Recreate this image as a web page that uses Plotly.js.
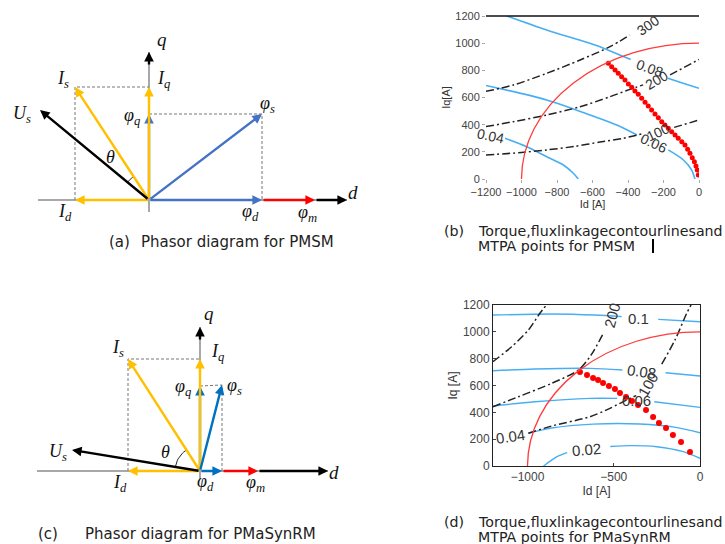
<!DOCTYPE html>
<html><head><meta charset="utf-8">
<script src="https://cdn.plot.ly/plotly-3.0.1.min.js"></script>
<style>html,body{margin:0;padding:0;background:#fff}#chart{width:725px;height:544px}</style>
</head><body><div id="chart"></div>
<script>
// ===== Panel (a): PMSM phasor diagram (d, q components in diagram units) =====
const pmsmIs   = [-74, 113];
const pmsmIq   = [0, 113];
const pmsmId   = [-74, 0];
const pmsmUs   = [-109, 90];
const pmsmPsiS = [113, 86];
const pmsmPsiQ = [0, 86];
const pmsmPsiD = [113, 0];
const pmsmPsiM = [166, 0];          // tip; tail sits on pmsmPsiD
const pmsmDAxis = [-111, 198];
const pmsmQAxis = [-12, 148];

// ===== Panel (c): PMaSynRM phasor diagram =====
const synIs   = [-72, 112];
const synIq   = [0, 112];
const synId   = [-72, 0];
const synUs   = [-128, 21];
const synPsiS = [22, 86];
const synPsiQ = [0, 85];
const synPsiD = [22, 0];
const synPsiM = [58, 0];
const synDAxis = [-163, 128];
const synQAxis = [-8, 144];

// ===== Panel (b): PMSM contours [A] =====
const currentLimit = 1000;
const xTicksB = [-1200, -1000, -800, -600, -400, -200, 0];
const yTicks = [0, 200, 400, 600, 800, 1000, 1200];
const bFlux008Id = [-1082, -858, -558, -426, -385, null, -175, -90, 0];
const bFlux008Iq = [1200, 1097, 974, 901, 880, null, 741, 705, 668];
const bFlux006Id = [-1200, -858, -614, -450, -350, null, -173, -88, -41, -23];
const bFlux006Iq = [689, 582, 471, 390, 324, null, 214, 140, 66, 0];
const bFlux004Id = [-1093, -971, -858, -764, -708, -680];
const bFlux004Iq = [300, 238, 164, 103, 42, 0];
const bT300Id = [-1200, -1046, -858, -670, -501, -389];
const bT300Iq = [645, 692, 778, 876, 974, 1060];
const bT200Id = [-1200, -1046, -858, -670, -501, -389, -315, null, -163, 0];
const bT200Iq = [386, 422, 471, 532, 606, 660, 693, null, 766, 880];
const bT100Id = [-1200, -1000, -858, -700, -558, -426, -320, null, -140, 0];
const bT100Iq = [177, 195, 214, 240, 272, 300, 333, null, 380, 434];
const bMtpaId = [-511, -492, -473, -455, -436, -417, -398, -379, -361, -342, -323, -304, -286, -267, -248, -229, -210, -192, -173, -154, -135, -117, -97, -79, -64, -51, -38, -26, -17, -10, -4];
const bMtpaIq = [852, 827, 803, 778, 753, 729, 700, 675, 648, 624, 594, 565, 538, 508, 479, 451, 422, 398, 373, 348, 324, 300, 275, 250, 219, 189, 157, 127, 96, 66, 29];
const bLabels = ['300', '0.08', '200', '100', '0.06', '0.04'];
const bLabelId = [-285, -280, -238, -229, -257, -1172];
const bLabelIq = [1134, 815, 729, 348, 263, 320];
const bLabelAng = [-35, 20, -30, -25, 25, 12];

// ===== Panel (d): PMaSynRM contours [A] =====
const xTicksD = [-1000, -500, 0];
const dFlux01Id = [-1200, -860, -609, -454, null, -242, 0];
const dFlux01Iq = [1125, 1133, 1125, 1113, null, 1093, 1075];
const dFlux008Id = [-1200, -957, -638, -450, null, -200, 0];
const dFlux008Iq = [710, 723, 728, 715, null, 695, 671];
const dFlux006Id = [-1200, -957, -638, -480, null, -265, 0];
const dFlux006Iq = [447, 479, 504, 504, null, 479, 437];
const dFlux004Id = [-995, -860, -620, -348, -150, 0];
const dFlux004Iq = [244, 283, 312, 313, 290, 248];
const dFlux002Id = [-907, -870, -820, -770, null, -520, -400, -251, -97, 0];
const dFlux002Iq = [0, 35, 75, 100, null, 145, 152, 144, 107, 57];
const dT300Id = [-1200, -1092, -995, -928, -890];
const dT300Iq = [778, 889, 1013, 1138, 1200];
const dT200Id = [-1200, -1053, -860, -705, -630, -560];
const dT200Iq = [442, 516, 616, 715, 830, 989];
const dT100Id = [-995, -860, -638, -522, -425, -370, null, -222, -145, -77, -52];
const dT100Iq = [244, 298, 367, 430, 492, 525, null, 760, 939, 1138, 1200];
const dMtpaId = [-696, -655, -620, -591, -562, -528, -493, -464, -429, -394, -359, -313, -272, -238, -197, -157, -110, -58];
const dMtpaIq = [700, 678, 656, 641, 618, 596, 574, 544, 514, 484, 455, 417, 365, 320, 283, 231, 179, 104];
const dLabels = ['0.1', '0.08', '0.06', '0.04', '0.02', '200', '100'];
const dLabelId = [-358, -338, -370, -1101, -657, -512, -300];
const dLabelIq = [1100, 703, 488, 218, 124, 1125, 604];
const dLabelAng = [0, 8, 0, -8, -5, -75, -60];

// ===== layout helpers (pixel -> paper) =====
const W = 725, H = 544;
const PX = v => v / W, PY = v => 1 - v / H;

const YEL = '#FFC000', BLUE_A = '#4472C4', BLUE_C = '#0070C0', RED = '#FF0000';
const FLUX = '#47AEF2', TORQ = '#222222', LIM = '#FF3B3B';

const traces = [];
const annotations = [];
const shapes = [];

function line(xa, ya, x, y, color, width, dash) {
  traces.push({type: 'scatter', mode: 'lines', xaxis: xa, yaxis: ya, x: x, y: y,
    line: {color: color, width: width, dash: dash || 'solid', shape: 'spline', smoothing: 0.8},
    connectgaps: false, hoverinfo: 'skip'});
}
function arrow(xa, ya, tail, tip, color) {
  annotations.push({xref: xa, yref: ya, axref: xa, ayref: ya, x: tip[0], y: tip[1], ax: tail[0], ay: tail[1],
    text: '', showarrow: true, arrowhead: 2, arrowsize: 0.8, arrowwidth: 2.4, arrowcolor: color, standoff: 0});
}
function label(xa, ya, pos, txt, size) {
  annotations.push({xref: xa, yref: ya, x: pos[0], y: pos[1], text: txt, showarrow: false,
    xanchor: 'center', yanchor: 'middle', font: {family: 'Liberation Serif, DejaVu Serif, serif', size: size || 18, color: '#111'}});
}
function thetaArc(xa, ya, a, b, r) {
  const t1 = Math.atan2(a[1], a[0]), t2 = Math.atan2(b[1], b[0]);
  const xs = [], ys = [];
  for (let i = 0; i <= 12; i++) { const t = t1 + (t2 - t1) * i / 12; xs.push(r * Math.cos(t)); ys.push(r * Math.sin(t)); }
  traces.push({type: 'scatter', mode: 'lines', xaxis: xa, yaxis: ya, x: xs, y: ys, line: {color: '#222', width: 1}, hoverinfo: 'skip'});
}

function phasor(xa, ya, v, blue, labels) {
  line(xa, ya, v.dAxis, [0, 0], '#A8A8A8', 2);
  line(xa, ya, [0, 0], v.qAxis, '#A8A8A8', 2);
  traces.push({type: 'scatter', mode: 'lines', xaxis: xa, yaxis: ya,
    x: [v.Id[0], v.Is[0], v.Iq[0]], y: [v.Id[1], v.Is[1], v.Iq[1]],
    line: {color: '#777', width: 1, dash: '3px,2px'}, hoverinfo: 'skip'});
  traces.push({type: 'scatter', mode: 'lines', xaxis: xa, yaxis: ya,
    x: [v.PsiQ[0], v.PsiS[0], v.PsiD[0]], y: [v.PsiQ[1], v.PsiS[1], v.PsiD[1]],
    line: {color: '#777', width: 1, dash: '3px,2px'}, hoverinfo: 'skip'});
  thetaArc(xa, ya, v.Us, v.Is, v.arc);
  arrow(xa, ya, [v.PsiM[0], 0], [v.dAxis[1], 0], '#000');
  arrow(xa, ya, [0, v.qAxis[1] - 14], [0, v.qAxis[1]], '#000');
  arrow(xa, ya, [0, 0], v.PsiQ, blue);
  arrow(xa, ya, [0, 0], v.Iq, YEL);
  arrow(xa, ya, [0, 0], v.Id, YEL);
  arrow(xa, ya, [0, 0], v.Is, YEL);
  arrow(xa, ya, [0, 0], v.Us, '#000');
  arrow(xa, ya, [0, 0], v.PsiD, blue);
  arrow(xa, ya, [0, 0], v.PsiS, blue);
  arrow(xa, ya, v.PsiD, v.PsiM, RED);
  labels.forEach(l => label(xa, ya, l[0], l[1], l[2]));
}

phasor('x3', 'y3', {Is: pmsmIs, Iq: pmsmIq, Id: pmsmId, Us: pmsmUs, PsiS: pmsmPsiS, PsiQ: pmsmPsiQ,
  PsiD: pmsmPsiD, PsiM: pmsmPsiM, dAxis: pmsmDAxis, qAxis: pmsmQAxis, arc: 28}, BLUE_A, [
  [[13, 160], '<i>q</i>', 19], [[-86, 120], '<i>I<sub>s</sub></i>'], [[14, 120], '<i>I<sub>q</sub></i>'],
  [[-127, 85], '<i>U<sub>s</sub></i>'], [[-17, 83], '<i>φ<sub>q</sub></i>'], [[118, 95], '<i>φ<sub>s</sub></i>'],
  [[-39, 43], '<i>θ</i>'], [[-84, -12], '<i>I<sub>d</sub></i>'], [[101, -12], '<i>φ<sub>d</sub></i>'],
  [[158, -13], '<i>φ<sub>m</sub></i>'], [[204, 8], '<i>d</i>', 19]]);

phasor('x4', 'y4', {Is: synIs, Iq: synIq, Id: synId, Us: synUs, PsiS: synPsiS, PsiQ: synPsiQ,
  PsiD: synPsiD, PsiM: synPsiM, dAxis: synDAxis, qAxis: synQAxis, arc: 25}, BLUE_C, [
  [[9, 158], '<i>q</i>', 19], [[-82, 123], '<i>I<sub>s</sub></i>'], [[17, 119], '<i>I<sub>q</sub></i>'],
  [[-142, 19], '<i>U<sub>s</sub></i>'], [[-17, 84], '<i>φ<sub>q</sub></i>'], [[34, 85], '<i>φ<sub>s</sub></i>'],
  [[-35, 19], '<i>θ</i>'], [[-80, -12], '<i>I<sub>d</sub></i>'], [[5, -11], '<i>φ<sub>d</sub></i>'],
  [[55, -12], '<i>φ<sub>m</sub></i>'], [[134, -1], '<i>d</i>', 19]]);

// ===== contour panels =====
const DD = '8px,3px,2px,3px';
line('x', 'y', bFlux008Id, bFlux008Iq, FLUX, 1.6);
line('x', 'y', bFlux006Id, bFlux006Iq, FLUX, 1.6);
line('x', 'y', bFlux004Id, bFlux004Iq, FLUX, 1.6);
line('x', 'y', bT300Id, bT300Iq, TORQ, 1.5, DD);
line('x', 'y', bT200Id, bT200Iq, TORQ, 1.5, DD);
line('x', 'y', bT100Id, bT100Iq, TORQ, 1.5, DD);
traces.push({type: 'scatter', mode: 'markers', xaxis: 'x', yaxis: 'y', x: bMtpaId, y: bMtpaIq,
  marker: {color: RED, size: 5}, hoverinfo: 'skip'});

line('x2', 'y2', dFlux01Id, dFlux01Iq, FLUX, 1.4);
line('x2', 'y2', dFlux008Id, dFlux008Iq, FLUX, 1.4);
line('x2', 'y2', dFlux006Id, dFlux006Iq, FLUX, 1.4);
line('x2', 'y2', dFlux004Id, dFlux004Iq, FLUX, 1.4);
line('x2', 'y2', dFlux002Id, dFlux002Iq, FLUX, 1.4);
line('x2', 'y2', dT300Id, dT300Iq, TORQ, 1.5, DD);
line('x2', 'y2', dT200Id, dT200Iq, TORQ, 1.5, DD);
line('x2', 'y2', dT100Id, dT100Iq, TORQ, 1.5, DD);
traces.push({type: 'scatter', mode: 'markers', xaxis: 'x2', yaxis: 'y2', x: dMtpaId, y: dMtpaIq,
  marker: {color: RED, size: 6}, hoverinfo: 'skip'});

['x', 'x2'].forEach((xa, i) => {
  const ya = i ? 'y2' : 'y';
  shapes.push({type: 'circle', xref: xa, yref: ya, x0: -currentLimit, x1: currentLimit, y0: -currentLimit, y1: currentLimit,
    line: {color: LIM, width: 1.3}, layer: 'above'});
});
shapes.push({type: 'line', xref: 'x domain', yref: 'y domain', x0: 0, x1: 1, y0: 1, y1: 1, line: {color: '#111', width: 1.5}});
shapes.push({type: 'line', xref: 'paper', yref: 'paper', x0: PX(653), x1: PX(653), y0: PY(239), y1: PY(253), line: {color: '#000', width: 2}});

bLabels.forEach((t, i) => annotations.push({xref: 'x', yref: 'y', x: bLabelId[i], y: bLabelIq[i], text: t, showarrow: false,
  textangle: bLabelAng[i], font: {family: 'Liberation Sans, Arial', size: 14, color: '#333'}}));
dLabels.forEach((t, i) => annotations.push({xref: 'x2', yref: 'y2', x: dLabelId[i], y: dLabelIq[i], text: t, showarrow: false,
  textangle: dLabelAng[i], font: {family: 'Liberation Sans, Arial', size: 15, color: '#333'}}));

// captions
function cap(x, y, t, s) { annotations.push({xref: 'paper', yref: 'paper', x: PX(x), y: PY(y), xanchor: 'left', yanchor: 'middle', borderpad: 0, text: t, showarrow: false,
  font: {family: 'DejaVu Sans, Liberation Sans, Arial', size: s, color: '#222'}}); }
cap(108, 242, '(a)', 15); cap(140, 242, 'Phasor diagram for PMSM', 15);
cap(443, 231, '(b)', 14.2); cap(477, 231, 'Torque,fluxlinkagecontourlinesand', 14.2); cap(477, 246, 'MTPA points for PMSM', 14.2);
cap(37, 534, '(c)', 15); cap(84, 534, 'Phasor diagram for PMaSynRM', 15);
cap(443, 522, '(d)', 14.2); cap(477, 522, 'Torque,fluxlinkagecontourlinesand', 14.2); cap(477, 537, 'MTPA points for PMaSynRM', 14.2);

const tickFont = {family: 'Liberation Sans, Arial', size: 11, color: '#444'};
const hidden = {visible: false, fixedrange: true};
const layout = {
  width: W, height: H, margin: {l: 0, r: 0, t: 0, b: 0}, paper_bgcolor: '#fff', plot_bgcolor: 'rgba(0,0,0,0)',
  showlegend: false, font: {family: 'Liberation Sans, Arial'},
  xaxis: {domain: [PX(486), PX(699)], range: [-1200, 0], tickvals: xTicksB, ticks: 'outside', ticklen: 3, tickcolor: '#aaa',
    showgrid: false, zeroline: false, showline: false, tickfont: tickFont, title: {text: 'Id [A]', font: {size: 11, color: '#333'}, standoff: 0}},
  yaxis: {domain: [PY(179), PY(16)], range: [0, 1200], tickvals: yTicks, ticks: 'outside', ticklen: 3, tickcolor: '#aaa',
    showgrid: false, zeroline: false, showline: false, tickfont: tickFont, title: {text: 'Iq[A]', font: {size: 11, color: '#333'}, standoff: 2}},
  xaxis2: {domain: [PX(493), PX(700)], range: [-1200, 0], tickvals: xTicksD, ticks: 'inside', ticklen: 3, showline: true, mirror: true,
    linecolor: '#222', linewidth: 1, showgrid: false, zeroline: false, tickfont: {family: 'Liberation Sans, Arial', size: 12, color: '#444'},
    anchor: 'y2', title: {text: 'Id [A]', font: {size: 12, color: '#333'}, standoff: 0}},
  yaxis2: {domain: [PY(466), PY(305)], range: [0, 1200], tickvals: yTicks, ticks: 'inside', ticklen: 3, showline: true, mirror: true,
    linecolor: '#222', linewidth: 1, showgrid: false, zeroline: false, tickfont: {family: 'Liberation Sans, Arial', size: 12, color: '#444'},
    anchor: 'x2', title: {text: 'Iq [A]', font: {size: 12, color: '#333'}, standoff: 2}},
  xaxis3: Object.assign({domain: [0, PX(370)], range: [-149, 221], anchor: 'y3'}, hidden),
  yaxis3: Object.assign({domain: [PY(230), PY(20)], range: [-30, 180], anchor: 'x3'}, hidden),
  xaxis4: Object.assign({domain: [0, PX(370)], range: [-200, 170], anchor: 'y4'}, hidden),
  yaxis4: Object.assign({domain: [PY(500), PY(300)], range: [-29, 171], anchor: 'x4'}, hidden),
  annotations: annotations, shapes: shapes
};
Plotly.newPlot('chart', traces, layout, {staticPlot: true, displayModeBar: false});
</script></body></html>
